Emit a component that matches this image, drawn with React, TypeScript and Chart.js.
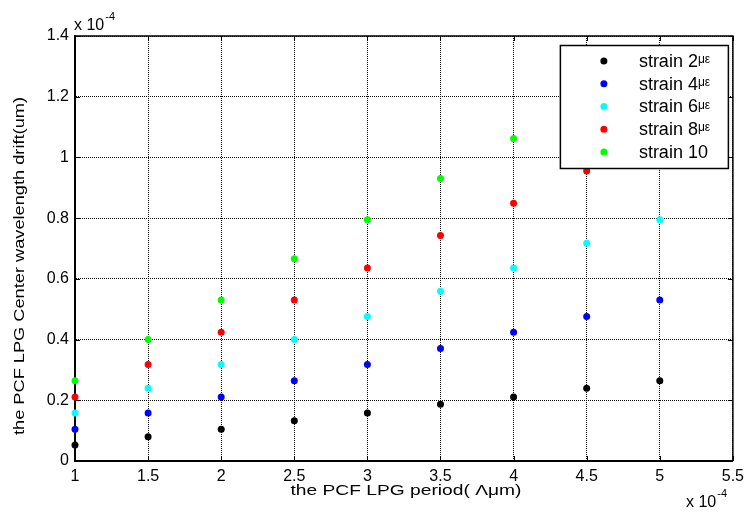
import React, { useEffect, useRef } from "react";
import { Chart, registerables } from "chart.js";

Chart.register(...registerables);

// x: PCF LPG period (×1e-4), y: center wavelength drift (×1e-4)
const periods = [1, 1.5, 2, 2.5, 3, 3.5, 4, 4.5, 5];
const strain2 = [0.053, 0.08, 0.105, 0.133, 0.158, 0.187, 0.211, 0.24, 0.264];
const strain4 = [0.105, 0.158, 0.211, 0.264, 0.318, 0.371, 0.424, 0.476, 0.53];
const strain6 = [0.158, 0.24, 0.318, 0.4, 0.476, 0.559, 0.636, 0.717, 0.795];
const strain8 = [0.211, 0.318, 0.424, 0.53, 0.636, 0.743, 0.849, 0.955, 1.06];
const strain10 = [0.264, 0.4, 0.53, 0.666, 0.795, 0.931, 1.062, 1.19, 1.32];

const seriesNames = ["strain 2", "strain 4", "strain 6", "strain 8", "strain 10"];
const seriesUnits = ["\u03bc\u03b5", "\u03bc\u03b5", "\u03bc\u03b5", "\u03bc\u03b5", ""];
const seriesColors = ["#000000", "#0000ff", "#00ffff", "#ff0000", "#00ff00"];
const seriesValues = [strain2, strain4, strain6, strain8, strain10];

const xTitle = "the PCF LPG period( \u039b\u03bcm)";
const yTitle = "the PCF LPG Center wavelength drift(um)";
const FONT = "'Liberation Sans', Arial, Helvetica, sans-serif";

const fmt = (v: number) => String(Number(v.toFixed(2)));

const decorPlugin = {
  id: "decor",
  beforeDatasetsDraw(chart: any) {
    const { ctx, chartArea: a, scales } = chart;
    ctx.save();
    ctx.strokeStyle = "#000";
    ctx.lineWidth = 1.5;
    ctx.beginPath();
    ctx.moveTo(a.left, a.top);
    ctx.lineTo(a.right, a.top);
    ctx.lineTo(a.right, a.bottom);
    ctx.stroke();
    ctx.lineWidth = 1;
    const tl = 5;
    scales.x.ticks.forEach((t: any) => {
      const px = Math.round(scales.x.getPixelForValue(t.value)) + 0.5;
      ctx.beginPath();
      ctx.moveTo(px, a.bottom);
      ctx.lineTo(px, a.bottom - tl);
      ctx.moveTo(px, a.top);
      ctx.lineTo(px, a.top + tl);
      ctx.stroke();
    });
    scales.y.ticks.forEach((t: any) => {
      const py = Math.round(scales.y.getPixelForValue(t.value)) + 0.5;
      ctx.beginPath();
      ctx.moveTo(a.left, py);
      ctx.lineTo(a.left + tl, py);
      ctx.moveTo(a.right, py);
      ctx.lineTo(a.right - tl, py);
      ctx.stroke();
    });
    ctx.restore();
  },
  afterDatasetsDraw(chart: any) {
    const { ctx, chartArea: a } = chart;
    ctx.save();
    // legend box
    const bx = a.right - 173;
    const by = a.top + 9;
    const bw = 168;
    const bh = 123;
    ctx.fillStyle = "#fff";
    ctx.fillRect(bx, by, bw, bh);
    ctx.strokeStyle = "#000";
    ctx.lineWidth = 1.5;
    ctx.strokeRect(bx + 0.5, by + 0.5, bw, bh);
    seriesNames.forEach((name, i) => {
      const cy = by + 16 + i * 22.75;
      ctx.fillStyle = seriesColors[i];
      ctx.beginPath();
      ctx.arc(bx + 44, cy, 3.5, 0, Math.PI * 2);
      ctx.fill();
      ctx.fillStyle = "#000";
      ctx.font = `18px ${FONT}`;
      ctx.textAlign = "left";
      ctx.textBaseline = "middle";
      ctx.fillText(name, bx + 79, cy + 1);
      const w = ctx.measureText(name).width;
      if (seriesUnits[i]) {
        ctx.font = `12px ${FONT}`;
        ctx.textBaseline = "alphabetic";
        ctx.fillText(seriesUnits[i], bx + 79 + w, cy + 2);
      }
    });
    ctx.restore();
  },
  afterDraw(chart: any) {
    const { ctx, chartArea: a } = chart;
    ctx.save();
    ctx.fillStyle = "#000";
    ctx.textBaseline = "alphabetic";
    ctx.textAlign = "left";
    // exponent labels
    ctx.font = `16px ${FONT}`;
    ctx.fillText("x 10", a.left - 1, 30);
    const w1 = ctx.measureText("x 10").width;
    ctx.font = `11px ${FONT}`;
    ctx.fillText("-4", a.left - 1 + w1 + 1, 20);
    ctx.font = `16px ${FONT}`;
    ctx.fillText("x 10", 686, 507);
    const w2 = ctx.measureText("x 10").width;
    ctx.font = `11px ${FONT}`;
    ctx.fillText("-4", 686 + w2 + 1, 497);
    // x title
    ctx.font = `15px ${FONT}`;
    ctx.textAlign = "center";
    const xw = ctx.measureText(xTitle).width;
    ctx.save();
    ctx.translate((a.left + a.right) / 2 + 2, 495);
    ctx.scale(231 / xw, 1);
    ctx.fillText(xTitle, 0, 0);
    ctx.restore();
    // y title
    ctx.font = `15px ${FONT}`;
    const yw = ctx.measureText(yTitle).width;
    ctx.save();
    ctx.translate(20, 266);
    ctx.rotate(-Math.PI / 2);
    ctx.scale(338 / yw, 1);
    ctx.textBaseline = "middle";
    ctx.fillText(yTitle, 0, 0);
    ctx.restore();
    ctx.restore();
  },
};

export default function App() {
  const ref = useRef<HTMLCanvasElement | null>(null);
  useEffect(() => {
    if (!ref.current) return;
    const chart = new Chart(ref.current, {
      type: "scatter",
      data: {
        datasets: seriesValues.map((vals, i) => ({
          label: seriesNames[i] + seriesUnits[i],
          data: periods.map((x, j) => ({ x, y: vals[j] })),
          backgroundColor: seriesColors[i],
          borderColor: seriesColors[i],
          pointRadius: 3.5,
          pointBorderWidth: 0,
          showLine: false,
          clip: false as any,
        })),
      },
      options: {
        responsive: false,
        animation: false,
        devicePixelRatio: 1,
        layout: { padding: { left: 0, top: 36, right: 13, bottom: 0 } },
        plugins: { legend: { display: false }, tooltip: { enabled: false } },
        scales: {
          x: {
            type: "linear",
            min: 1,
            max: 5.5,
            afterFit: (s: any) => {
              s.height = 51;
            },
            ticks: {
              stepSize: 0.5,
              color: "#000",
              font: { family: FONT, size: 16 },
              padding: 6,
              maxRotation: 0,
              autoSkip: false,
              callback: (v: any) => fmt(Number(v)),
            },
            grid: { color: "#000", lineWidth: 1, drawTicks: false },
            border: { display: true, color: "#000", width: 2, dash: [1, 1] },
          },
          y: {
            type: "linear",
            min: 0,
            max: 1.4,
            afterFit: (s: any) => {
              s.width = 75;
            },
            ticks: {
              stepSize: 0.2,
              color: "#000",
              font: { family: FONT, size: 16 },
              padding: 6,
              autoSkip: false,
              callback: (v: any) => fmt(Number(v)),
            },
            grid: { color: "#000", lineWidth: 1, drawTicks: false },
            border: { display: true, color: "#000", width: 2, dash: [1, 1] },
          },
        },
      },
      plugins: [decorPlugin],
    } as any);
    return () => chart.destroy();
  }, []);
  return (
    <div style={{ position: "fixed", left: 0, top: 0, width: 750, height: 512, background: "#fff" }}>
      <canvas ref={ref} width={750} height={512} style={{ display: "block" }} />
    </div>
  );
}
